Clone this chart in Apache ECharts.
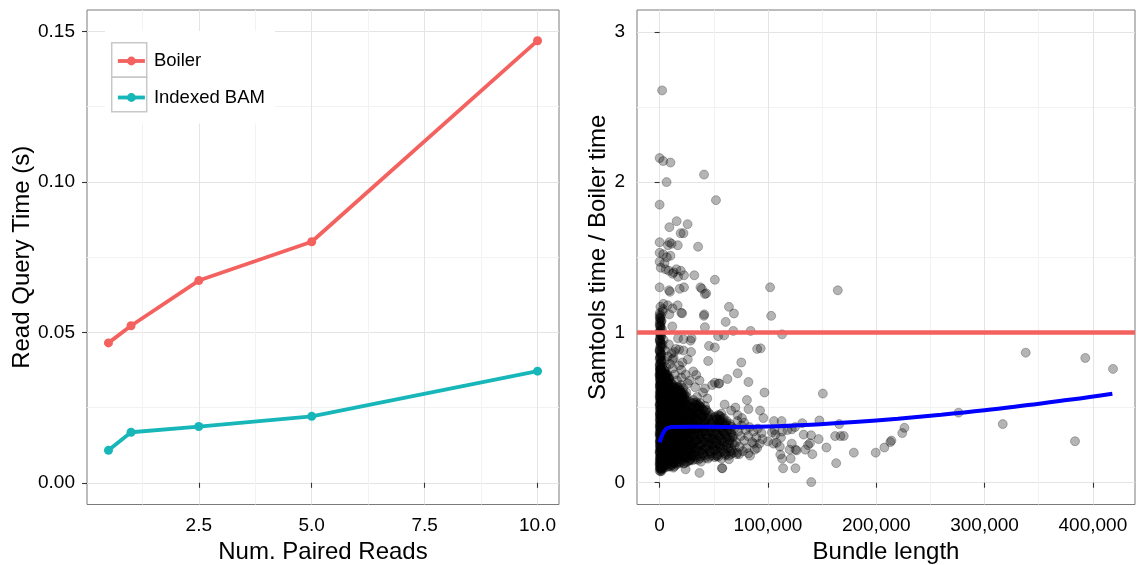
<!DOCTYPE html>
<html>
<head>
<meta charset="utf-8">
<script src="https://cdn.jsdelivr.net/npm/echarts@6/dist/echarts.min.js"></script>
<style>
  html, body { margin: 0; padding: 0; background: #fff; }
  #chart { width: 1139px; height: 565px; }
</style>
</head>
<body>
<div id="chart"></div>
<script>
// ---- Left panel: read query time vs number of paired reads ----
const readCounts = [0.5, 1, 2.5, 5, 10];
const boilerTimes = [0.0465, 0.0522, 0.0672, 0.0801, 0.1469];
const bamTimes = [0.0108, 0.0168, 0.0187, 0.0221, 0.0371];
const leftXTicks = [2.5, 5, 7.5, 10];
const leftXMinor = [1.25, 3.75, 6.25, 8.75];
const leftYTicks = [0, 0.05, 0.1, 0.15];
const leftYMinor = [0.025, 0.075, 0.125];

// ---- Right panel: samtools / boiler time ratio per bundle ----
// [bundle length, ratio]; short bundles, x <= 3,000
const bundlesShort = [
  [0,0.08],[400,0.10],[1200,0.09],[2500,0.11],[700,0.12],[1800,0.13],[100,0.14],[2900,0.15],[900,0.16],[300,0.17],
  [1500,0.18],[2200,0.19],[600,0.20],[50,0.21],[1300,0.22],[2700,0.23],[800,0.24],[200,0.25],[1900,0.26],[1000,0.27],
  [450,0.28],[2400,0.29],[1600,0.30],[150,0.31],[750,0.32],[2100,0.33],[350,0.34],[1150,0.35],[2800,0.36],[550,0.37],
  [0,0.38],[1700,0.39],[950,0.40],[2300,0.41],[250,0.42],[1400,0.43],[650,0.44],[2600,0.45],[80,0.46],[1050,0.47],
  [1850,0.48],[420,0.49],[2450,0.50],[850,0.51],[180,0.52],[1550,0.53],[2150,0.54],[580,0.55],[1250,0.56],[30,0.57],
  [2750,0.58],[980,0.59],[330,0.60],[1650,0.61],[700,0.62],[2050,0.63],[120,0.64],[1350,0.65],[500,0.66],[2500,0.67],
  [880,0.68],[260,0.69],[1750,0.70],[1100,0.71],[40,0.72],[620,0.73],[1450,0.74],[220,0.75],[900,0.76],
  [300,0.78],[1200,0.80],[60,0.82],[800,0.84],[1900,0.85],[400,0.87],[150,0.89],[1000,0.91],[2600,0.92],[500,0.94],
  [100,0.96],[1400,0.98],[700,0.99],[250,1.01],[2200,1.02],[900,1.04],[50,1.06],[1600,1.07],[450,1.09],[1100,1.11],
  [200,1.13],[3000,1.14],[700,1.17],[1700,0.077],[700,0.075],
  [1500,0.085],[200,0.095],[2600,0.105],[800,0.115],[50,0.125],[1900,0.135],[1100,0.145],[400,0.155],[2400,0.165],[700,0.175],
  [1600,0.185],[100,0.195],[2900,0.205],[950,0.215],[350,0.225],[2000,0.235],[1350,0.245],[600,0.255],[2700,0.265],[150,0.275],
  [1750,0.285],[850,0.295],[2250,0.305],[450,0.315],[1200,0.325],[0,0.335],[2550,0.345],[1000,0.355],[300,0.365],[1850,0.375],
  [650,0.385],[2350,0.395],[1450,0.405],[100,0.415],[900,0.425],[2050,0.435],[500,0.445],[1650,0.455],[250,0.465],[2800,0.475],
  [1150,0.485],[750,0.495],[1950,0.505],[50,0.515],[1300,0.525],[2500,0.535],[550,0.545],[1800,0.555],[900,0.565],[200,0.575],
  [2200,0.585],[1400,0.595],[700,0.605],[2650,0.615],[350,0.625],[1050,0.635],[1900,0.645],[150,0.655],[1550,0.665],[800,0.675],
  [2400,0.685],[450,0.695],[1200,0.705],[0,0.715],[2000,0.725],[650,0.735],[1500,0.745],[300,0.755],[1000,0.765],[2300,0.775],
  [100,0.79],[1700,0.81],[500,0.83],[1100,0.86],[0,0.88],[2100,0.90],[700,0.93],[300,0.95],[1300,0.97],[0,1.00],
  [900,1.03],[600,1.05],[1800,1.08],[100,1.10],
  [2100,0.092],[600,0.102],[1400,0.112],[0,0.122],[2800,0.132],[950,0.142],[300,0.152],[1750,0.162],[550,0.172],[2450,0.182],
  [1200,0.192],[50,0.202],[2000,0.212],[800,0.222],[1550,0.232],[350,0.242],[2650,0.252],[1050,0.262],[150,0.272],[1850,0.282],
  [650,0.292],[2350,0.302],[1300,0.312],[0,0.322],[2150,0.332],[900,0.342],[1650,0.352],[450,0.362],[2900,0.372],[1100,0.382],
  [200,0.392],[1950,0.402],[700,0.412],[2550,0.422],[1350,0.432],[100,0.442],[1800,0.452],[600,0.462],[2250,0.472],[1000,0.482],
  [350,0.492],[2700,0.502],[1500,0.512],[50,0.522],[2050,0.532],[850,0.542],[1700,0.552],[400,0.562],[2400,0.572],[1150,0.582],
  [0,0.592],[1900,0.602],[750,0.612],[2600,0.622],[1400,0.632],[250,0.642],[2100,0.652],[950,0.662],[1600,0.672],[500,0.682],
  [2300,0.692],[1250,0.702],[100,0.712],[1850,0.722],[700,0.732],[1100,0.742],[400,0.752],[1300,0.762],[0,0.775],[800,0.795],
  [1500,0.815],[200,0.835],[900,0.855],[0,0.875],[600,0.905],[1200,0.925],[100,0.945],[500,0.985],[1000,1.015],[0,1.045],
  [300,1.075],[800,1.095],[0,1.115]
];
// bundles between 3,000 and 15,000
const bundlesSmall = [
  [3200,0.10],[8700,0.11],[5400,0.12],[12800,0.13],[4100,0.14],[10500,0.15],[6900,0.15],[14300,0.16],[3600,0.17],[9100,0.18],
  [7600,0.19],[11900,0.19],[4800,0.20],[13500,0.21],[6200,0.22],[9800,0.23],[3300,0.24],[11200,0.24],[7900,0.25],[14700,0.26],
  [5100,0.27],[10100,0.28],[4300,0.29],[12400,0.29],[6600,0.30],[8400,0.31],[13900,0.32],[3900,0.33],[9400,0.33],[5800,0.34],
  [11600,0.35],[7200,0.36],[14100,0.37],[4500,0.37],[10800,0.38],[6100,0.39],[12900,0.40],[3500,0.41],[8100,0.41],[9900,0.42],
  [5300,0.43],[13300,0.44],[7000,0.45],[11000,0.45],[4000,0.46],[14500,0.47],[8800,0.48],[6400,0.49],[12100,0.49],[3700,0.50],
  [10300,0.51],[5600,0.52],[13700,0.52],[7700,0.53],[9200,0.54],[4600,0.55],[11400,0.56],[6800,0.57],[3100,0.58],[12600,0.58],
  [8300,0.59],[5000,0.60],[10600,0.61],[7400,0.62],[4200,0.63],[9600,0.63],[13100,0.64],[5900,0.65],[3800,0.66],[8000,0.67],
  [11300,0.66],[6300,0.68],[4400,0.69],[9000,0.70],[3400,0.71],[7100,0.72],[5200,0.73],[4000,0.75],
  [6000,0.77],[9500,0.79],[12000,0.76],[4700,0.81],[14000,0.72],[7500,0.84],[11000,0.86],[5000,0.88],[13000,0.83],[8500,0.92],
  [3700,0.95],[13400,0.108],[12700,0.10],
  [7300,0.105],[11300,0.115],[4500,0.125],[13100,0.135],[9600,0.145],[5900,0.155],[3400,0.165],[12200,0.175],[8200,0.185],[14800,0.195],
  [6700,0.205],[10400,0.215],[3900,0.225],[12900,0.235],[8900,0.245],[5500,0.255],[14000,0.265],[7100,0.275],[11700,0.285],[3200,0.295],
  [9500,0.305],[13600,0.315],[6000,0.325],[10900,0.335],[4700,0.345],[8600,0.355],[12300,0.365],[3600,0.375],[14400,0.385],[7800,0.395],
  [10000,0.405],[5200,0.415],[11800,0.425],[6500,0.435],[13000,0.445],[3300,0.455],[9300,0.465],[12500,0.475],[4900,0.485],[7500,0.495],
  [14200,0.505],[8900,0.515],[3900,0.525],[11100,0.535],[6200,0.545],[13400,0.555],[4300,0.565],[9700,0.575],[7000,0.585],[11900,0.595],
  [3500,0.605],[8500,0.615],[5400,0.625],[12300,0.635],[7200,0.645],[4100,0.655],[10200,0.665],[6100,0.675],[3700,0.685],[8400,0.695],
  [5000,0.705],[6600,0.715],[3300,0.73],[4500,0.745],
  [4200,0.098],[9900,0.108],[6300,0.118],[13700,0.128],[3800,0.138],[11500,0.148],[8000,0.158],[5600,0.168],[14500,0.178],[10700,0.188],
  [3500,0.198],[7800,0.208],[12600,0.218],[5100,0.228],[9200,0.238],[14200,0.248],[4000,0.258],[10300,0.268],[6700,0.278],[13200,0.288],
  [8800,0.298],[5000,0.308],[11900,0.318],[3400,0.328],[7500,0.338],[14900,0.348],[9800,0.358],[5700,0.368],[12700,0.378],[3900,0.388],
  [8300,0.398],[11300,0.408],[6400,0.418],[14000,0.428],[4600,0.438],[9600,0.448],[7300,0.458],[12000,0.468],[3600,0.478],[10500,0.488],
  [5800,0.498],[13600,0.508],[8600,0.518],[4700,0.528],[11700,0.538],[6900,0.548],[3200,0.558],[10000,0.568],[13000,0.578],[5500,0.588],
  [8900,0.598],[4400,0.608],[11100,0.618],[6600,0.628],[3900,0.638],[9300,0.648],[5300,0.658],[7900,0.668],[12100,0.652],[4800,0.678],
  [6400,0.698],[3600,0.708],[8700,0.688],[5600,0.718],[4300,0.728],
  [3600,0.112],[10200,0.122],[6800,0.132],[12400,0.142],[4400,0.152],[8400,0.162],[14100,0.172],[5300,0.182],[9700,0.192],[3300,0.202],
  [12000,0.212],[7200,0.222],[4900,0.232],[10900,0.242],[13800,0.252],[6400,0.262],[3700,0.272],[9000,0.282],[12900,0.292],[5600,0.302],
  [7900,0.312],[10500,0.322],[4100,0.332],[13300,0.342],[6900,0.352],[9100,0.362],[3300,0.372],[11800,0.382],[5400,0.392],[8700,0.402],
  [14600,0.412],[4800,0.422],[10700,0.432],[7600,0.442],[12800,0.452],[3800,0.462],[6000,0.472],[9400,0.482],[13900,0.492],[4200,0.502],
  [8200,0.512],[11500,0.522],[5900,0.532],[3500,0.542],[10100,0.552],[7300,0.562],[12200,0.572],[4900,0.582],[8800,0.592],[6500,0.602],
  [3800,0.612],[10900,0.622],[5700,0.632],[7800,0.642],[4500,0.662],[9900,0.642],[6200,0.682],[3400,0.692],[7700,0.702],[4700,0.712]
];
// bundles between 15,000 and 30,000
const bundlesMid = [
  [15500,0.12],[22800,0.13],[18400,0.14],[27600,0.15],[16900,0.16],[24700,0.17],[20300,0.18],[29100,0.18],[17700,0.19],[25900,0.20],
  [21500,0.21],[15800,0.22],[28300,0.22],[19200,0.23],[23600,0.24],[26800,0.25],[16300,0.26],[20900,0.26],[29600,0.27],[18000,0.28],
  [24100,0.29],[22200,0.30],[15200,0.31],[27100,0.31],[19700,0.32],[25300,0.33],[17300,0.34],[28700,0.35],[21100,0.35],[23200,0.36],
  [16600,0.37],[26200,0.38],[19000,0.39],[29900,0.39],[24400,0.40],[15600,0.41],[21800,0.42],[27900,0.43],[18700,0.43],[23900,0.44],
  [16100,0.45],[25600,0.46],[20600,0.47],[28900,0.47],[17500,0.48],[22500,0.49],[26500,0.50],[19500,0.51],[15400,0.52],[24000,0.52],
  [21200,0.53],[27300,0.54],[17100,0.55],[23000,0.56],[18900,0.57],[25100,0.57],[16400,0.58],[20400,0.59],[22000,0.60],[15900,0.61],
  [18200,0.62],[24600,0.60],[17000,0.64],[21700,0.63],[19900,0.65],[16000,0.68],[20000,0.70],[26000,0.66],[24000,0.089],
  [19400,0.135],[26300,0.145],[16200,0.155],[23400,0.165],[29300,0.175],[17900,0.185],[21900,0.195],[27400,0.205],[15300,0.215],[24900,0.225],
  [20100,0.235],[28600,0.245],[17400,0.255],[22700,0.265],[25800,0.275],[15700,0.285],[20500,0.295],[27800,0.305],[18600,0.315],[23800,0.325],
  [29400,0.335],[16400,0.345],[21600,0.355],[26600,0.365],[19300,0.375],[24200,0.385],[15100,0.395],[28100,0.405],[20800,0.415],[17200,0.425],
  [25300,0.435],[22300,0.445],[29000,0.455],[18500,0.465],[15900,0.475],[23700,0.485],[20200,0.495],[27000,0.505],[16700,0.515],[22600,0.525],
  [18400,0.535],[25700,0.545],[15300,0.555],[20900,0.565],[17800,0.575],[23300,0.585],[16200,0.595],[19100,0.605],[15600,0.625],
  [17600,0.128],[25200,0.138],[21000,0.148],[28800,0.158],[15900,0.168],[23000,0.178],[19600,0.188],[26900,0.198],[17000,0.208],[22400,0.218],
  [29600,0.228],[18800,0.238],[24500,0.248],[15500,0.258],[21300,0.268],[27300,0.278],[19100,0.288],[25100,0.298],[16700,0.308],[22800,0.318],
  [28500,0.328],[18200,0.338],[24800,0.348],[20400,0.358],[15400,0.368],[27600,0.378],[22100,0.388],[17700,0.398],[25600,0.408],[19800,0.418],
  [29200,0.428],[16300,0.438],[23400,0.448],[21000,0.458],[26800,0.468],[17900,0.478],[24300,0.488],[15600,0.498],[21400,0.508],[19000,0.518],
  [24700,0.528],[16800,0.538],[22200,0.548],[18900,0.558],[15900,0.568],[21200,0.578],[17400,0.588],[19700,0.598],[16500,0.612],[18100,0.632],
  [22300,0.127],[16500,0.137],[28000,0.147],[19800,0.157],[25000,0.167],[17200,0.177],[23900,0.187],[28900,0.197],[20600,0.207],[16000,0.217],
  [26100,0.227],[22000,0.237],[18100,0.247],[29700,0.257],[24300,0.267],[20000,0.277],[15600,0.287],[27500,0.297],[23000,0.307],[17600,0.317],
  [26700,0.327],[21500,0.337],[15900,0.347],[29000,0.357],[24600,0.367],[18800,0.377],[22800,0.387],[27000,0.397],[16800,0.407],[20100,0.417],
  [25000,0.427],[18200,0.437],[28300,0.447],[21800,0.457],[16100,0.467],[26000,0.477],[19400,0.487],[22900,0.497],[17600,0.507],[25400,0.517],
  [20600,0.527],[15700,0.537],[23600,0.547],[19500,0.557],[17000,0.567],[22500,0.577],[15800,0.587],[20700,0.597],[18400,0.617],[16300,0.632]
];
// bundles between 30,000 and 95,000
const bundlesLong = [
  [30500,0.15],[38200,0.14],[44700,0.16],[33600,0.17],[41100,0.18],[48300,0.18],[35900,0.19],[31800,0.20],[46100,0.21],[39400,0.22],
  [34200,0.23],[42800,0.23],[49500,0.24],[37000,0.25],[30900,0.26],[45300,0.26],[40300,0.27],[32700,0.28],[47600,0.29],[36400,0.29],
  [43700,0.30],[38800,0.31],[31300,0.32],[49000,0.32],[34900,0.33],[41700,0.34],[46800,0.35],[37600,0.35],[30200,0.36],[44100,0.37],
  [33200,0.38],[39900,0.38],[48000,0.39],[35500,0.40],[42300,0.41],[31600,0.42],[45800,0.42],[38500,0.43],[33900,0.44],[40800,0.45],
  [47100,0.45],[36800,0.46],[32100,0.47],[43400,0.48],[30700,0.49],[39200,0.49],[35100,0.50],[41900,0.51],[32900,0.52],[37300,0.53],
  [31200,0.55],[34600,0.57],
  [33100,0.155],[42200,0.165],[37700,0.175],[47200,0.195],[31500,0.205],[39000,0.215],[44000,0.225],[35300,0.235],[48700,0.255],[32400,0.265],
  [41500,0.275],[37900,0.285],[45600,0.295],[30400,0.305],[35800,0.315],[42900,0.325],[39500,0.335],[47900,0.345],[33400,0.355],[37100,0.37],
  [44600,0.385],[30900,0.395],[40500,0.405],[36000,0.415],[43000,0.43],[32300,0.435],[38200,0.455],[45200,0.465],[34200,0.475],[40000,0.485],
  [31000,0.505],[36500,0.515],[33800,0.535],
  [35600,0.152],[45900,0.172],[31400,0.182],[40100,0.192],[36700,0.212],[49200,0.222],[32800,0.232],[43300,0.242],[38600,0.252],[46400,0.272],
  [34100,0.282],[41000,0.292],[31900,0.302],[48500,0.312],[37400,0.322],[44900,0.342],[33000,0.352],[40900,0.362],[35200,0.372],[47300,0.372],
  [30600,0.382],[42600,0.392],[37800,0.402],[33600,0.412],[45000,0.432],[39700,0.442],[31400,0.452],[36200,0.462],[42000,0.472],[33000,0.492],
  [38000,0.502],[35000,0.522],[31800,0.532],
  [37200,0.162],[32200,0.177],[43900,0.187],[39600,0.197],[47000,0.207],[34300,0.217],[41700,0.227],[30600,0.237],[45900,0.247],[36100,0.257],
  [42100,0.267],[33900,0.277],[48900,0.287],[38900,0.297],[44300,0.307],[31700,0.317],[36900,0.327],[46400,0.337],[40700,0.347],[34400,0.357],
  [43600,0.367],[38400,0.377],[31000,0.387],[47200,0.397],[35600,0.407],[41400,0.417],[32700,0.427],[39000,0.437],[44200,0.447],[34600,0.457],
  [30500,0.467],[37000,0.477],[42600,0.487],[32000,0.497],[36900,0.507],[33100,0.517],[30200,0.527],
  [50800,0.17],[57300,0.16],[63900,0.18],[53600,0.19],[68200,0.20],[60400,0.21],[51900,0.22],[65700,0.23],[55800,0.24],[61800,0.25],
  [69400,0.25],[52700,0.26],[58600,0.27],[64500,0.28],[50300,0.29],[67100,0.30],[56200,0.30],[62600,0.31],[53100,0.32],[59700,0.33],
  [66300,0.33],[51400,0.34],[57900,0.35],[63200,0.36],[68900,0.36],[54500,0.37],[60900,0.38],[52300,0.39],[65100,0.39],[58100,0.40],
  [50600,0.41],[62000,0.41],[55300,0.42],[59200,0.43],[51800,0.44],[54000,0.45],[57000,0.46],
  [52400,0.18],[61300,0.19],[56500,0.205],[66900,0.215],[53800,0.235],[59000,0.245],[64100,0.26],[50900,0.265],[56900,0.285],[62200,0.295],
  [68100,0.31],[54800,0.315],[60100,0.325],[52200,0.355],[57500,0.365],[64000,0.38],[55600,0.395],[61200,0.40],[53300,0.42],[57700,0.425],
  [50400,0.435],
  [54100,0.172],[60800,0.182],[66000,0.192],[51500,0.212],[58200,0.222],[63500,0.232],[55200,0.252],[67600,0.262],[60000,0.272],[52600,0.282],
  [65500,0.302],[57100,0.312],[61600,0.342],[55900,0.352],[51000,0.372],[59500,0.382],[66600,0.372],[54200,0.402],[50300,0.422],[56100,0.442],
  [53000,0.177],[59800,0.197],[65200,0.207],[56400,0.227],[51400,0.247],[62700,0.267],[58000,0.287],[54300,0.302],[66000,0.322],[51200,0.322],
  [58800,0.342],[63800,0.352],[53700,0.372],[60300,0.392],[56300,0.412],[52400,0.427],[55000,0.447],
  [71200,0.19],[76800,0.21],[83500,0.18],[73900,0.24],[80200,0.23],[87900,0.22],[70600,0.27],[78100,0.28],[85400,0.27],[92300,0.26],
  [74800,0.31],[81700,0.31],[89200,0.30],[72300,0.34],[79400,0.35],[86600,0.34],[94100,0.33],[75600,0.38],[83000,0.37],[71800,0.41],
  [77900,0.40],[90600,0.36],[36800,0.065],[57900,0.096],[57500,0.097],[64000,0.156],[72000,0.20],[73500,0.19],[82000,0.196]
];
// bundles with ratios away from the main mass
const bundlesSparse = [
  [2300,2.61],[0,2.16],[3300,2.14],[10000,2.13],[6400,2.00],[41000,2.05],[52000,1.88],[0,1.85],[15700,1.74],[25800,1.72],
  [9000,1.70],[19400,1.66],[22000,1.66],[0,1.60],[9000,1.60],[16700,1.58],[35500,1.57],[7700,1.58],[11000,1.59],
  [0,1.53],[3300,1.52],[6700,1.50],[10000,1.51],[0,1.47],[4500,1.46],
  [1000,1.43],[5500,1.42],[8500,1.41],[12000,1.39],[15500,1.42],[19500,1.41],[22500,1.38],[17000,1.37],[13000,1.40],[32000,1.38],[51000,1.35],
  [0,1.30],[8700,1.28],[9500,1.27],[18500,1.29],[22500,1.30],[37700,1.30],[39000,1.29],[41800,1.255],[43000,1.26],[102000,1.30],[164500,1.28],
  [3500,1.19],[7500,1.18],[12000,1.16],[16600,1.18],[20800,1.127],[3000,1.155],[9000,1.12],[20000,1.13],[41200,1.12],[64000,1.17],
  [68600,1.126],[103000,1.11],[40800,1.11],[61000,1.07],
  [11700,1.04],[41800,1.035],[54000,0.975],[59500,0.98],[68000,1.01],[84000,1.01],[113000,0.987],[17000,0.96],[22000,0.955],[28500,0.945],
  [29500,0.96],[45600,0.91],[51000,0.90],[93300,0.894],[90000,0.89],[15000,0.89],[13500,0.87],[18000,0.885],[22000,0.88],[29000,0.87],
  [44800,0.81],[75400,0.80],[18000,0.78],[21000,0.80],[12000,0.82],[26000,0.82],[33800,0.717],[27800,0.68],[72000,0.728],[62600,0.69],
  [55000,0.66],[51000,0.665],[82000,0.67],[96800,0.60],[80600,0.55],[82000,0.49],[92700,0.48],[95800,0.43],[32800,0.635],[41800,0.627],
  [48500,0.65],[54500,0.66],[36800,0.68],[20000,0.75],[24000,0.72],[31000,0.74],[40000,0.60],[44000,0.56],[60000,0.52],[66000,0.48],
  [72000,0.45],[76000,0.43],[70000,0.50],
  [150700,0.593],[338000,0.865],[393000,0.83],[418600,0.757],[316800,0.39],[276000,0.466],[383500,0.276],[147500,0.414],[165800,0.39],
  [131700,0.396],[112600,0.41],[224000,0.33],[226000,0.365],[213000,0.27],[214000,0.28],[207500,0.234],[199500,0.20],[179300,0.20],
  [163000,0.13],[170000,0.311],[167000,0.31],[162000,0.31],[154000,0.234],[146800,0.29],[141000,0.19],[140000,0.004],[134400,0.22],
  [138800,0.263],[139800,0.316],[133000,0.32],[137000,0.25],[125400,0.22],[126500,0.215],[125400,0.096],[114000,0.096],[111400,0.187],
  [112000,0.30],[105000,0.26],[108000,0.265],[103700,0.335],[118000,0.35],[122000,0.355],[100000,0.275],[95000,0.29],[90000,0.23],
  [87000,0.26],[106000,0.35],[107000,0.32],[113000,0.34],[122000,0.26],[125000,0.37],[111000,0.24],[113000,0.16],[121000,0.16],
  [105600,0.41],[120000,0.22]
];
// fitted smooth of the ratio against bundle length
const smoothFit = [
  [0,0.268],[2000,0.31],[4000,0.34],[7000,0.362],[11000,0.371],[30000,0.372],[60000,0.371],[100000,0.374],
  [140000,0.386],[180000,0.404],[220000,0.426],[260000,0.452],[300000,0.482],[340000,0.517],[380000,0.553],[418000,0.592]
];
const parityRatio = 1;
const rightXTicks = [0, 100000, 200000, 300000, 400000];
const rightXMinor = [50000, 150000, 250000, 350000];
const rightYTicks = [0, 1, 2, 3];
const rightYMinor = [0.5, 1.5, 2.5];

const FONT = '"Liberation Sans", Arial, Helvetica, sans-serif';
const RED = '#F3625E';
const TEAL = '#17B6B9';
const MAJOR = '#e4e4e4';
const MINOR = '#f2f2f2';

function mainAxis(opts) {
  const isX = opts.dim === 'x';
  return {
    type: 'value',
    gridIndex: opts.grid,
    min: opts.min,
    max: opts.max,
    position: isX ? 'bottom' : 'left',
    axisLine: { show: false },
    axisTick: { show: true, length: 5, customValues: opts.ticks, lineStyle: { color: '#333', width: 1.1 } },
    axisLabel: {
      customValues: opts.ticks, formatter: opts.fmt, fontSize: 19, color: '#000',
      fontFamily: FONT, margin: isX ? 12 : 12
    },
    splitLine: { show: true, lineStyle: { color: MAJOR, width: 1 } },
    name: opts.name,
    nameLocation: 'middle',
    nameGap: opts.nameGap,
    nameTextStyle: { fontSize: 24, color: '#000', fontFamily: FONT }
  };
}
function minorAxis(opts) {
  return {
    type: 'value',
    gridIndex: opts.grid,
    min: opts.min,
    max: opts.max,
    position: opts.dim === 'x' ? 'top' : 'right',
    axisLine: { show: false },
    axisTick: { show: false, customValues: opts.ticks },
    axisLabel: { show: false },
    splitLine: { show: true, lineStyle: { color: MINOR, width: 1 } }
  };
}
const withCommas = v => String(v).replace(/\B(?=(\d{3})+(?!\d))/g, ',');

const LX = { min: 0.025, max: 10.475 };
const LY = { min: -0.0072, max: 0.1571 };
const RX = { min: -20900, max: 438900 };
const RY = { min: -0.145, max: 3.145 };

const gridBase = {
  top: 10, bottom: 60.5, show: true, backgroundColor: '#fff',
  borderColor: '#7a7a7a', borderWidth: 1, containLabel: false, outerBoundsMode: 'none'
};

const chart = echarts.init(document.getElementById('chart'));
chart.setOption({
  animation: false,
  backgroundColor: '#fff',
  grid: [
    Object.assign({ left: 87, right: 580 }, gridBase),
    Object.assign({ left: 637, right: 4 }, gridBase)
  ],
  xAxis: [
    mainAxis({ dim: 'x', grid: 0, ...LX, ticks: leftXTicks, fmt: v => v.toFixed(1), name: 'Num. Paired Reads', nameGap: 34 }),
    minorAxis({ dim: 'x', grid: 0, ...LX, ticks: leftXMinor }),
    mainAxis({ dim: 'x', grid: 1, ...RX, ticks: rightXTicks, fmt: withCommas, name: 'Bundle length', nameGap: 34 }),
    minorAxis({ dim: 'x', grid: 1, ...RX, ticks: rightXMinor })
  ],
  yAxis: [
    mainAxis({ dim: 'y', grid: 0, ...LY, ticks: leftYTicks, fmt: v => v.toFixed(2), name: 'Read Query Time (s)', nameGap: 53 }),
    minorAxis({ dim: 'y', grid: 0, ...LY, ticks: leftYMinor }),
    mainAxis({ dim: 'y', grid: 1, ...RY, ticks: rightYTicks, fmt: v => String(v), name: 'Samtools time / Boiler time', nameGap: 27 }),
    minorAxis({ dim: 'y', grid: 1, ...RY, ticks: rightYMinor })
  ],
  legend: {
    data: ['Boiler', 'Indexed BAM'],
    orient: 'vertical',
    left: 105,
    top: 31,
    padding: [19, 10, 15, 11],
    backgroundColor: '#fff',
    itemWidth: 27,
    itemHeight: 11,
    itemGap: 14.5,
    selectedMode: false,
    lineStyle: { width: 3.8 },
    textStyle: { fontSize: 18.5, color: '#000', fontFamily: FONT, lineHeight: 20, padding: [2, 0, 0, 4] }
  },
  graphic: [
    { type: 'rect', z: 10, silent: true, shape: { x: 111.7, y: 42.7, width: 35, height: 34.5 },
      style: { fill: 'none', stroke: '#c8c8c8', lineWidth: 1.5 } },
    { type: 'rect', z: 10, silent: true, shape: { x: 111.7, y: 77.2, width: 35, height: 34.5 },
      style: { fill: 'none', stroke: '#c8c8c8', lineWidth: 1.5 } }
  ],
  series: [
    {
      name: 'Boiler', type: 'line', xAxisIndex: 0, yAxisIndex: 0,
      data: readCounts.map((r, i) => [r, boilerTimes[i]]),
      symbol: 'circle', symbolSize: 9, showAllSymbol: true,
      lineStyle: { color: RED, width: 3.8 }, itemStyle: { color: RED }, silent: true
    },
    {
      name: 'Indexed BAM', type: 'line', xAxisIndex: 0, yAxisIndex: 0,
      data: readCounts.map((r, i) => [r, bamTimes[i]]),
      symbol: 'circle', symbolSize: 9, showAllSymbol: true,
      lineStyle: { color: TEAL, width: 3.8 }, itemStyle: { color: TEAL }, silent: true
    },
    {
      name: 'bundles', type: 'scatter', xAxisIndex: 2, yAxisIndex: 2,
      data: [].concat(bundlesShort, bundlesSmall, bundlesMid, bundlesLong, bundlesSparse),
      symbol: 'circle', symbolSize: 9, silent: true, large: false, progressive: 0,
      itemStyle: { color: 'rgba(0,0,0,0.37)', borderColor: 'rgba(0,0,0,0.32)', borderWidth: 1 },
      markLine: {
        silent: true, symbol: 'none', label: { show: false },
        lineStyle: { color: RED, width: 4.5, type: 'solid' },
        data: [{ yAxis: parityRatio }]
      }
    },
    {
      name: 'fit', type: 'line', xAxisIndex: 2, yAxisIndex: 2,
      data: smoothFit, showSymbol: false, smooth: 0.4, silent: true, z: 6,
      lineStyle: { color: '#0000ff', width: 4 }
    }
  ]
});
</script>
</body>
</html>
